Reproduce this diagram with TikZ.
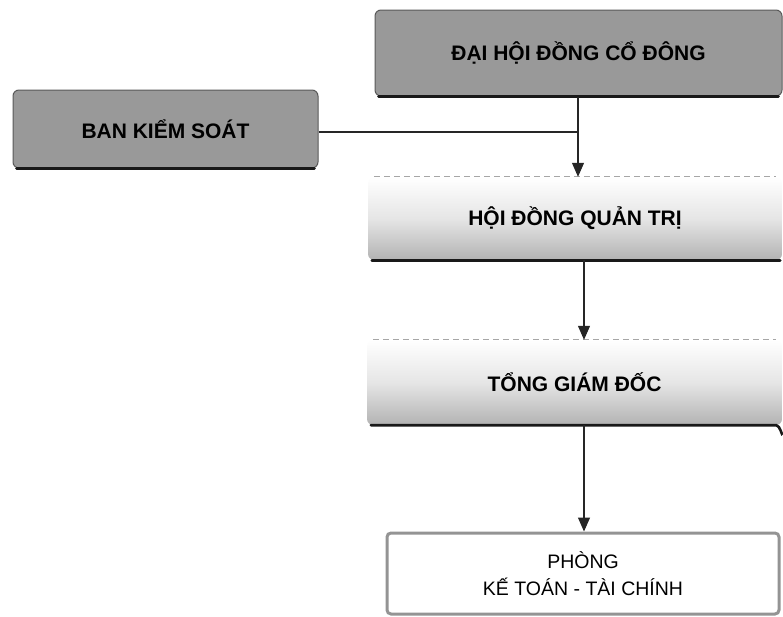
\documentclass[tikz,border=0pt]{standalone}
\usepackage{fontspec}
\setmainfont{Liberation Sans}
\usetikzlibrary{arrows.meta}
\begin{document}
\begin{tikzpicture}[x=1pt,y=-1pt,
  box/.style={rectangle, rounded corners=6pt, inner sep=0pt, align=center,
    font=\bfseries\fontsize{21}{25}\selectfont},
  darkbox/.style={box, fill=black!40, draw=black!65, line width=1pt},
  lightbox/.style={box, top color=white, bottom color=black!30, middle color=white!90!black},
  plainbox/.style={box, fill=white, draw=black!42, line width=3pt, rounded corners=4pt,
    font=\fontsize{19.5}{27}\selectfont},
  baseline/.style={line width=2.6pt, draw=black!90, line cap=round},
  link/.style={line width=1.1pt, draw=black!85},
  arr/.style={link, -{Triangle[width=12pt,length=14pt]}}
]
\useasboundingbox (0,0) rectangle (783,616);

\node[darkbox, minimum width=407pt, minimum height=86pt] (dhd) at (578.5,53) {ĐẠI HỘI ĐỒNG CỔ ĐÔNG};
\node[darkbox, minimum width=305pt, minimum height=78pt] (bks) at (165.5,129) {BAN KIỂM SOÁT};
\node[lightbox, minimum width=414pt, minimum height=83pt] (hdqt) at (575,218.5) {HỘI ĐỒNG QUẢN TRỊ};
\node[lightbox, minimum width=415pt, minimum height=85pt] (tgd) at (574.5,382.5) {TỔNG GIÁM ĐỐC};
\node[plainbox, minimum width=392pt, minimum height=81pt] (pkt) at (583,573.5) {PHÒNG\\KẾ TOÁN - TÀI CHÍNH};

% dark bottom edges
\draw[baseline] ([xshift=4pt]dhd.south west) -- ([xshift=-4pt]dhd.south east);
\draw[baseline] ([xshift=4pt]bks.south west) -- ([xshift=-4pt]bks.south east);
\draw[baseline] ([xshift=4pt]hdqt.south west) -- ([xshift=-2pt]hdqt.south east);
\draw[baseline] ([xshift=4pt]tgd.south west) -- ([xshift=-6pt]tgd.south east)
  to[out=0,in=-90] ([yshift=-8pt]tgd.south east);
\draw[black!35, line width=0.8pt, dash pattern=on 6pt off 4pt]
  ([xshift=6pt]hdqt.north west) -- ([xshift=-6pt]hdqt.north east);
\draw[black!35, line width=0.8pt, dash pattern=on 6pt off 4pt]
  ([xshift=6pt]tgd.north west) -- ([xshift=-6pt]tgd.north east);

% connectors
\coordinate (xa) at (578,0);
\coordinate (xb) at (584,0);
\coordinate (j) at (578,132);
\draw[arr] (dhd.south -| xa) -- (hdqt.north -| xa);
\draw[link] (bks.east |- j) -- (j);
\draw[arr] (hdqt.south -| xb) -- (tgd.north -| xb);
\draw[arr] (tgd.south -| xb) -- (pkt.north -| xb);
\end{tikzpicture}
\end{document}
